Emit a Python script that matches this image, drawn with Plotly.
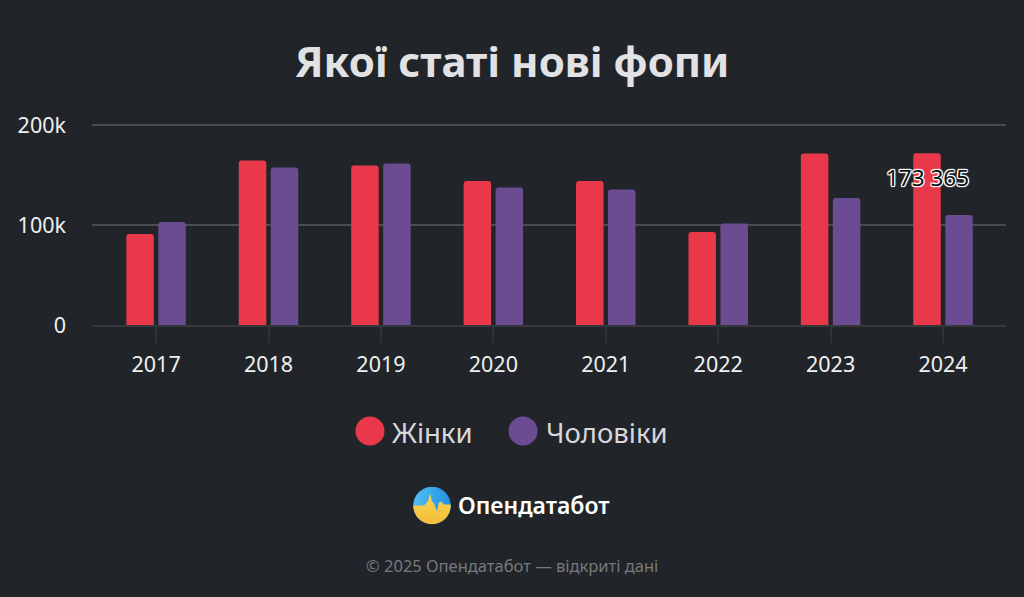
import base64
import plotly.graph_objects as go

years = [2017, 2018, 2019, 2020, 2021, 2022, 2023, 2024]
women = [91, 164.5, 159.5, 144, 144, 93, 171.5, 171.7]
men = [103, 157.5, 161.5, 137.5, 135.5, 101.5, 127, 110]
tick_vals = [0, 100, 200]
tick_text = ["0", "100k", "200k"]
series_names = ["Жінки", "Чоловіки"]
series_colors = ["#e83849", "#6b4c93"]
title_text = "Якої статі нові фопи"
brand_text = "Опендатабот"
footer_text = "© 2025 Опендатабот — відкриті дані"
label_text = "173 365"
label_year = 2024
label_y = 148

W, H = 1024, 597
BG = "#212529"
FONT = "Noto Sans"
L, R, T, B = 92, 1006, 120, 325

logo_svg = """<svg xmlns='http://www.w3.org/2000/svg' width='152' height='152' viewBox='0 0 38 38'>
<defs><linearGradient id='b' x1='0' y1='0' x2='1' y2='0'><stop offset='0' stop-color='#55c0f0'/><stop offset='1' stop-color='#1f8fe6'/></linearGradient>
<linearGradient id='y' x1='0' y1='0' x2='0' y2='1'><stop offset='0' stop-color='#f8d84e'/><stop offset='1' stop-color='#f5bb3c'/></linearGradient>
<clipPath id='c'><circle cx='19' cy='19' r='18.7'/></clipPath></defs>
<g clip-path='url(#c)'><rect width='38' height='38' fill='url(#b)'/>
<path d='M0 19 L11 19 L13 17 L15 15 L17 7 L19 15 L21 17 L24 25 L26 16 L28 15 L31 18 L38 18 L38 38 L0 38 Z' fill='url(#y)'/></g></svg>"""
logo_src = "data:image/svg+xml;base64," + base64.b64encode(logo_svg.encode()).decode()

fig = go.Figure()
for name, vals, color in zip(series_names, [women, men], series_colors):
    fig.add_bar(x=years, y=vals, name=name, marker=dict(color=color, line_width=0, cornerradius=3),
                hoverinfo="skip", showlegend=False)


def px(x):
    return (x - L) / (R - L)


def py(y):
    return 1 - (y - T) / (B - T)


shapes = []
annotations = [
    dict(text=f"<b>{title_text}</b>", x=px(512), y=py(61), font=dict(size=42, color="#e2e2e5")),
    dict(text=brand_text, x=px(456), y=py(504.5), xanchor="left",
         font=dict(size=23, color="#ffffff", weight=600)),
    dict(text=footer_text, x=px(512), y=py(565), font=dict(size=16.5, color="#77797c")),
]
legend_items = [(370, 390), (523, 544)]
for (cx, tx), name, color in zip(legend_items, series_names, series_colors):
    shapes.append(dict(type="circle", xref="paper", yref="paper", x0=px(cx - 14.5), x1=px(cx + 14.5),
                       y0=py(431 + 14.5), y1=py(431 - 14.5), fillcolor=color, line_width=0))
    annotations.append(dict(text=name, x=px(tx), y=py(432), xanchor="left",
                            font=dict(size=27.5, color="#d8d8dc")))
for a in annotations:
    a.update(xref="paper", yref="paper", showarrow=False, yanchor=a.get("yanchor", "middle"),
             xanchor=a.get("xanchor", "center"))
halo = ",".join(f"{dx}px {dy}px 0.8px #fff" for dx in (-1, 0, 1) for dy in (-1, 0, 1) if dx or dy)
annotations.append(dict(text=label_text, xref="x", yref="y", x=label_year - 0.142, y=label_y, showarrow=False,
                        font=dict(size=22.5, color="#111111", family=FONT, shadow=halo)))

fig.update_layout(
    width=W, height=H, autosize=False,
    paper_bgcolor=BG, plot_bgcolor=BG,
    font=dict(family=FONT, color="#e8e8e8"),
    margin=dict(l=L, r=W - R, t=T, b=H - B, pad=0),
    barmode="group", bargap=0.431, bargroupgap=0.14,
    showlegend=False,
    shapes=shapes, annotations=annotations,
    images=[dict(source=logo_src, xref="paper", yref="paper", x=px(413), y=py(486.5),
                 sizex=38 / (R - L), sizey=38 / (B - T), sizing="contain",
                 xanchor="left", yanchor="top", layer="above")],
    xaxis=dict(range=[2016.43, 2024.56], tickmode="array", tickvals=years, ticktext=[str(y) for y in years],
               ticks="outside", ticklen=16, tickwidth=1.5, tickcolor="#303235", showgrid=False, zeroline=False,
               showline=True, linecolor="#36383b", linewidth=2, ticklabelstandoff=3,
               tickfont=dict(size=21.5, color="#f0f0f0")),
    yaxis=dict(range=[0, 205], tickmode="array", tickvals=tick_vals, ticktext=tick_text, ticks="",
               showgrid=True, gridcolor="#4a4d4f", gridwidth=2, zeroline=False, showline=False,
               ticklabelstandoff=25, tickfont=dict(size=21.5, color="#f0f0f0")),
)
fig.write_html("out.html", config=dict(displayModeBar=False),
               post_script="document.body.style.margin='0';document.body.style.background='#212529';")
